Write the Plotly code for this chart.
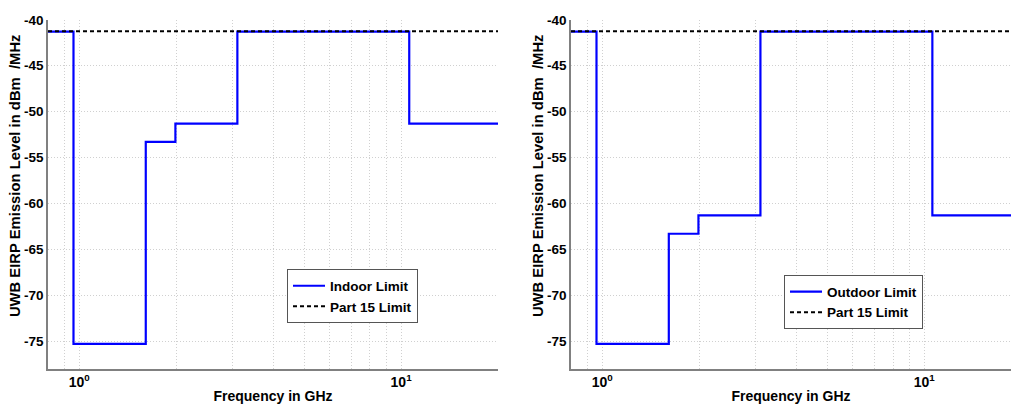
import math
import plotly.graph_objects as go

# Data (FCC UWB emission masks)
freq_steps = [0.8, 0.96, 0.96, 1.61, 1.61, 1.99, 1.99, 3.1, 3.1, 10.6, 10.6, 20.0]
indoor_limit = [-41.3, -41.3, -75.3, -75.3, -53.3, -53.3, -51.3, -51.3, -41.3, -41.3, -51.3, -51.3]
outdoor_limit = [-41.3, -41.3, -75.3, -75.3, -63.3, -63.3, -61.3, -61.3, -41.3, -41.3, -61.3, -61.3]
part15_freq = [0.8, 20.0]
part15_limit = [-41.25, -41.25]

y_ticks = [-40, -45, -50, -55, -60, -65, -70, -75]
y_text = ["<b>%d</b>" % v for v in y_ticks]
x_grid = [0.9, 1, 2, 3, 4, 5, 6, 7, 8, 9, 10, 20]
x_text = ["" if v not in (1, 10) else ("<b>10<sup>0</sup></b>" if v == 1 else "<b>10<sup>1</sup></b>") for v in x_grid]
y_title = "UWB EIRP Emission Level in dBm  /MHz"

FONT = "Liberation Sans, Arial, sans-serif"
BLUE = "#0000ff"
GRID = "#d0d0d0"

fig = go.Figure()
fig.add_trace(go.Scatter(x=freq_steps, y=indoor_limit, mode="lines", name="Indoor Limit",
                         line=dict(color=BLUE, width=2.2), xaxis="x", yaxis="y", legend="legend"))
fig.add_trace(go.Scatter(x=part15_freq, y=part15_limit, mode="lines", name="Part 15 Limit",
                         line=dict(color="black", width=2, dash="4px,3px"), xaxis="x", yaxis="y", legend="legend"))
fig.add_trace(go.Scatter(x=freq_steps, y=outdoor_limit, mode="lines", name="Outdoor Limit",
                         line=dict(color=BLUE, width=2.2), xaxis="x2", yaxis="y2", legend="legend2"))
fig.add_trace(go.Scatter(x=part15_freq, y=part15_limit, mode="lines", name="Part 15 Limit",
                         line=dict(color="black", width=2, dash="4px,3px"), xaxis="x2", yaxis="y2", legend="legend2"))


def xaxis(domain, rmax, anchor):
    return dict(type="log", domain=domain, range=[math.log10(0.8), math.log10(rmax)], anchor=anchor,
                tickvals=x_grid, ticktext=x_text, showgrid=True, gridcolor=GRID,
                griddash="1px,2px", gridwidth=1, showline=True, linecolor="#808080", linewidth=1.5,
                zeroline=False, ticks="",
                tickfont=dict(family=FONT, size=14, color="black", weight="bold"),
                title=dict(text="Frequency in GHz",
                           font=dict(family=FONT, size=14, color="black", weight="bold"),
                           standoff=2))


def yaxis(domain, anchor):
    return dict(domain=domain, range=[-78, -40], tickvals=y_ticks, ticktext=y_text, anchor=anchor,
                showgrid=True, gridcolor=GRID, griddash="1px,2px", gridwidth=1,
                showline=True, linecolor="#808080", linewidth=1.5, zeroline=False, ticks="",
                tickfont=dict(family=FONT, size=13.5, color="black", weight="bold"))


ydom = [1 - 368 / 413, 1 - 13 / 413]
legend_style = dict(xanchor="left", yanchor="top", bgcolor="white", bordercolor="#555555",
                    borderwidth=1, font=dict(family=FONT, size=13.5, color="black", weight="bold"),
                    tracegroupgap=0, itemwidth=32)
title_font = dict(family=FONT, size=14.8, color="black", weight="bold")
fig.update_layout(
    width=1011, height=413, margin=dict(l=0, r=0, t=0, b=0),
    paper_bgcolor="white", plot_bgcolor="white", showlegend=True,
    xaxis=xaxis([48 / 1011, 498 / 1011], 20.0, "y"),
    yaxis=yaxis(ydom, "x"),
    xaxis2=xaxis([571 / 1011, 1.0], 18.6, "y2"),
    yaxis2=yaxis(ydom, "x2"),
    legend=dict(x=287 / 1011, y=1 - 267 / 413, **legend_style),
    legend2=dict(x=784 / 1011, y=1 - 273 / 413, **legend_style),
    annotations=[
        dict(text=y_title, textangle=-90, x=15 / 1011, y=1 - 172 / 413, xref="paper", yref="paper",
             showarrow=False, font=title_font, xanchor="center", yanchor="middle"),
        dict(text=y_title, textangle=-90, x=538 / 1011, y=1 - 172 / 413, xref="paper", yref="paper",
             showarrow=False, font=title_font, xanchor="center", yanchor="middle"),
    ],
)

fig.write_html("out.html")
